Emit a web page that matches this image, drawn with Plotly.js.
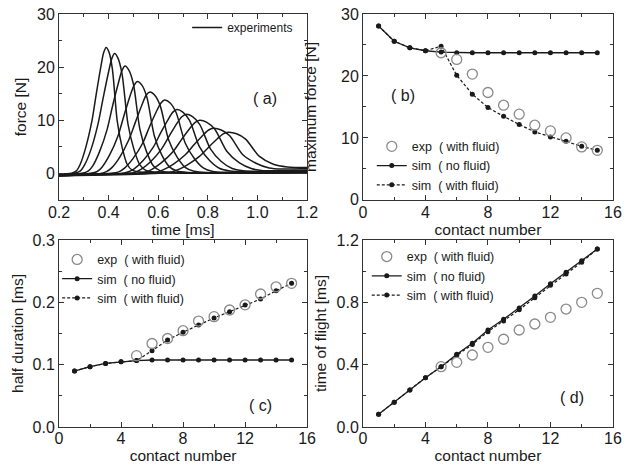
<!DOCTYPE html>
<html><head><meta charset="utf-8">
<script src="https://cdn.plot.ly/plotly-3.0.1.min.js"></script>
<style>html,body{margin:0;padding:0;background:#fff}#chart{width:628px;height:467px}</style>
</head><body><div id="chart"></div>
<script>
// ---------- panel (a): measured force pulses (time [ms], force [N]) ----------
const p1t = [0.2,0.250,0.270,0.285,0.307,0.332,0.350,0.368,0.380,0.390,0.402,0.415,0.435,0.455,0.475,0.495,0.525,1.2];
const p1f = [-0.2,0,0.47,1.66,4.74,9.72,14.93,19.91,22.75,23.7,22.75,19.67,9.72,4.74,1.66,0.59,0.24,0.1];
const p2t = [0.2,0.263,0.286,0.303,0.329,0.357,0.378,0.399,0.413,0.424,0.438,0.454,0.478,0.502,0.526,0.550,0.586,1.2];
const p2f = [-0.4,0,0.45,1.58,4.51,9.25,14.21,18.94,21.65,22.55,21.65,18.72,9.25,4.51,1.58,0.56,0.23,0.1];
const p3t = [0.2,0.292,0.317,0.336,0.363,0.394,0.416,0.439,0.454,0.466,0.482,0.500,0.526,0.553,0.580,0.607,0.647,1.2];
const p3f = [-0.1,0,0.40,1.41,4.04,8.28,12.73,16.97,19.39,20.2,19.39,16.77,8.28,4.04,1.41,0.51,0.20,0.15];
const p4t = [0.2,0.327,0.354,0.374,0.404,0.438,0.462,0.486,0.503,0.516,0.534,0.554,0.584,0.614,0.645,0.675,0.720,1.2];
const p4f = [-0.3,0,0.35,1.21,3.46,7.09,10.9,14.53,16.61,17.3,16.61,14.36,7.09,3.46,1.21,0.43,0.17,0.2];
const p5t = [0.2,0.362,0.391,0.413,0.445,0.481,0.508,0.534,0.551,0.566,0.586,0.608,0.642,0.676,0.710,0.744,0.795,1.2];
const p5f = [-0.5,-0.1,0.31,1.07,3.06,6.27,9.64,12.85,14.69,15.3,14.69,12.7,6.27,3.06,1.07,0.38,0.15,0.3];
const p6t = [0.2,0.410,0.441,0.464,0.498,0.537,0.564,0.592,0.611,0.626,0.648,0.672,0.709,0.746,0.783,0.820,0.876,1.2];
const p6f = [-0.2,0,0.28,0.97,2.76,5.66,8.69,11.59,13.25,13.8,13.25,11.45,5.66,2.76,0.97,0.35,0.2,0.4];
const p7t = [0.2,0.445,0.478,0.503,0.539,0.580,0.609,0.639,0.659,0.675,0.699,0.726,0.767,0.807,0.848,0.889,0.950,1.2];
const p7f = [-0.4,-0.1,0.24,0.84,2.4,4.92,7.56,10.08,11.52,12.0,11.52,9.96,4.92,2.4,0.9,0.45,0.3,0.5];
const p8t = [0.2,0.473,0.507,0.532,0.570,0.613,0.644,0.674,0.695,0.712,0.738,0.767,0.811,0.854,0.898,0.942,1.008,1.2];
const p8f = [-0.1,0,0.22,0.78,2.22,4.55,6.99,9.32,10.66,11.1,10.66,9.21,4.55,2.22,0.9,0.5,0.4,0.6];
const p9t = [0.2,0.508,0.545,0.573,0.613,0.660,0.693,0.726,0.749,0.767,0.796,0.828,0.877,0.926,0.975,1.023,1.097,1.2];
const p9f = [-0.3,0,0.2,0.7,2.0,4.1,6.3,8.4,9.6,10.0,9.6,8.3,4.1,2.0,0.9,0.5,0.5,0.6];
const p10t = [0.2,0.549,0.588,0.617,0.660,0.709,0.744,0.779,0.803,0.822,0.854,0.888,0.941,0.994,1.047,1.101,1.2];
const p10f = [-0.5,-0.1,0.17,0.6,1.7,3.49,5.36,7.14,8.16,8.5,8.16,7.06,3.49,1.9,1.0,0.8,0.9];
const p11t = [0.2,0.602,0.642,0.672,0.716,0.766,0.802,0.838,0.862,0.882,0.916,0.952,1.008,1.064,1.120,1.2];
const p11f = [-0.2,0,0.16,0.54,1.55,3.18,4.88,6.51,7.44,7.75,7.44,6.43,3.18,1.7,1.2,1.1];

// ---------- panels (b)-(d) ----------
const contacts   = [1,2,3,4,5,6,7,8,9,10,11,12,13,14,15];
const contactsExp = [5,6,7,8,9,10,11,12,13,14,15];

const bSimNoFluid = [28.06,25.6,24.55,24.07,23.86,23.75,23.75,23.75,23.75,23.75,23.75,23.75,23.75,23.75,23.75];
const bSimFluid   = [28.06,25.6,24.55,24.07,24.8,20.1,17.06,14.9,13.5,12.16,10.97,10.16,9.46,8.65,8.0];
const bExp        = [23.75,22.67,20.3,17.33,15.28,13.83,12.05,11.13,10.0,8.55,8.0];

const cSimNoFluid = [0.0898,0.0968,0.102,0.1048,0.1065,0.1075,0.1075,0.1075,0.1075,0.1075,0.1075,0.1075,0.1075,0.1075,0.1075];
const cSimFluid   = [0.0898,0.0968,0.102,0.1048,0.1065,0.1224,0.1396,0.152,0.1636,0.175,0.185,0.1957,0.2053,0.2187,0.2305];
const cExp        = [0.1144,0.134,0.142,0.1545,0.170,0.177,0.1877,0.196,0.2134,0.225,0.2305];

const dSimNoFluid = [0.0813,0.158,0.2375,0.3166,0.387,0.4664,0.537,0.6225,0.691,0.764,0.841,0.92,0.993,1.067,1.1425];
const dSimFluid   = [0.0813,0.158,0.2375,0.3166,0.387,0.460,0.530,0.612,0.681,0.752,0.830,0.909,0.982,1.058,1.1425];
const dExp        = [0.387,0.415,0.462,0.511,0.563,0.6225,0.661,0.704,0.757,0.80,0.858];

const pulses = [[p1t,p1f],[p2t,p2f],[p3t,p3f],[p4t,p4f],[p5t,p5f],[p6t,p6f],[p7t,p7f],[p8t,p8f],[p9t,p9f],[p10t,p10f],[p11t,p11f]];

const FONT = 'Liberation Sans, Arial, Helvetica, sans-serif';
const INK = '#1a1a1a';
const GREY = '#8a8a8a';
const NB = '\u00a0';

const traces = [];
pulses.forEach((p, i) => {
  traces.push({
    x: p[0], y: p[1], xaxis: 'x', yaxis: 'y', type: 'scatter', mode: 'lines',
    line: {color: INK, width: 1.5, shape: 'spline', smoothing: 0.8},
    name: 'experiments', showlegend: i === 0, legend: 'legend', hoverinfo: 'skip'
  });
});

function trio(xa, ya, leg, noF, withF, exp) {
  traces.push({x: contacts, y: noF, xaxis: xa, yaxis: ya, type: 'scatter', mode: 'lines+markers',
    line: {color: INK, width: 1.3}, marker: {color: INK, size: 5},
    name: 'sim' + NB + NB + '(' + NB + 'no fluid)', legend: leg, legendrank: 2});
  traces.push({x: contacts, y: withF, xaxis: xa, yaxis: ya, type: 'scatter', mode: 'lines+markers',
    line: {color: INK, width: 1.2, dash: '3px,2px'}, marker: {color: INK, size: 5},
    name: 'sim' + NB + NB + '(' + NB + 'with fluid)', legend: leg, legendrank: 3});
  traces.push({x: contactsExp, y: exp, xaxis: xa, yaxis: ya, type: 'scatter', mode: 'markers',
    marker: {symbol: 'circle-open', color: GREY, size: 10, line: {width: 1.3, color: GREY}},
    name: 'exp' + NB + NB + '(' + NB + 'with fluid)', legend: leg, legendrank: 1});
}
trio('x2', 'y2', 'legend2', bSimNoFluid, bSimFluid, bExp);
trio('x3', 'y3', 'legend3', cSimNoFluid, cSimFluid, cExp);
trio('x4', 'y4', 'legend4', dSimNoFluid, dSimFluid, dExp);

function ax(extra) {
  return Object.assign({
    showline: true, linecolor: '#333', linewidth: 1, mirror: 'ticks',
    ticks: 'inside', ticklen: 5, tickwidth: 1, tickcolor: '#333',
    showgrid: false, zeroline: false,
    tickfont: {size: 16, color: INK, family: FONT}
  }, extra);
}
const titleFont = {size: 15.5, color: INK, family: FONT};
const XL = [0.094, 0.489], XR = [0.578, 0.976], YT = [0.572, 0.970], YB = [0.0857, 0.486];

const legStyle = (x, y, size) => ({x: x, y: y, xanchor: 'left', yanchor: 'top', bgcolor: 'rgba(0,0,0,0)',
  borderwidth: 0, font: {size: size, color: INK, family: FONT}, traceorder: 'normal'});

const layout = {
  width: 628, height: 467, margin: {l: 0, r: 0, t: 0, b: 0},
  paper_bgcolor: '#fff', plot_bgcolor: '#fff',
  font: {family: FONT, color: INK},
  showlegend: true,
  xaxis: ax({domain: XL, anchor: 'y', range: [0.2, 1.2], dtick: 0.2, tick0: 0.2, tickformat: '.1f',
    ticklabelstandoff: -2,
    minor: {ticks: 'inside', dtick: 0.1, ticklen: 3, tickcolor: '#333'},
    title: {text: 'time [ms]', font: titleFont, standoff: 0}}),
  yaxis: ax({domain: YT, anchor: 'x', range: [-5, 30], dtick: 10, tick0: 0,
    minor: {ticks: 'inside', dtick: 5, ticklen: 3, tickcolor: '#333'},
    title: {text: 'force [N]', font: titleFont, standoff: 6}}),
  xaxis2: ax({domain: XR, anchor: 'y2', range: [0, 16], dtick: 4,
    ticklabelstandoff: -2,
    minor: {ticks: 'inside', dtick: 2, ticklen: 3, tickcolor: '#333'},
    title: {text: 'contact number', font: titleFont, standoff: 0}}),
  yaxis2: ax({domain: YT, anchor: 'x2', range: [0, 30], dtick: 10,
    minor: {ticks: 'inside', dtick: 5, ticklen: 3, tickcolor: '#333'},
    title: {text: 'maximum force [N]', font: titleFont, standoff: 20}}),
  xaxis3: ax({domain: XL, anchor: 'y3', range: [0, 16], dtick: 4,
    ticklabelstandoff: -3,
    minor: {ticks: 'inside', dtick: 2, ticklen: 3, tickcolor: '#333'},
    title: {text: 'contact number', font: titleFont, standoff: 0}}),
  yaxis3: ax({domain: YB, anchor: 'x3', range: [0, 0.3], dtick: 0.1, tickformat: '.1f',
    minor: {ticks: 'inside', dtick: 0.05, ticklen: 3, tickcolor: '#333'},
    title: {text: 'half duration [ms]', font: titleFont, standoff: 5}}),
  xaxis4: ax({domain: XR, anchor: 'y4', range: [0, 16], dtick: 4,
    ticklabelstandoff: -3,
    minor: {ticks: 'inside', dtick: 2, ticklen: 3, tickcolor: '#333'},
    title: {text: 'contact number', font: titleFont, standoff: 0}}),
  yaxis4: ax({domain: YB, anchor: 'x4', range: [0, 1.2], dtick: 0.4, tickformat: '.1f',
    minor: {ticks: 'inside', dtick: 0.2, ticklen: 3, tickcolor: '#333'},
    title: {text: 'time of flight [ms]', font: titleFont, standoff: 6}}),
  legend: legStyle(0.298, 0.972, 12),
  legend2: legStyle(0.592, 0.718, 12.5),
  legend3: legStyle(0.091, 0.4757, 12.5),
  legend4: legStyle(0.584, 0.482, 12.5),
  annotations: [
    {xref: 'x', yref: 'y', x: 1.03, y: 14, text: '(' + NB + 'a)', showarrow: false, font: {size: 16, color: INK, family: FONT}},
    {xref: 'x2', yref: 'y2', x: 2.56, y: 16.9, text: '(' + NB + 'b)', showarrow: false, font: {size: 16, color: INK, family: FONT}},
    {xref: 'x3', yref: 'y3', x: 12.97, y: 0.035, text: '(' + NB + 'c)', showarrow: false, font: {size: 16, color: INK, family: FONT}},
    {xref: 'x4', yref: 'y4', x: 13.4, y: 0.186, text: '(' + NB + 'd)', showarrow: false, font: {size: 16, color: INK, family: FONT}}
  ]
};

Plotly.newPlot('chart', traces, layout, {staticPlot: true, displayModeBar: false});
</script></body></html>
